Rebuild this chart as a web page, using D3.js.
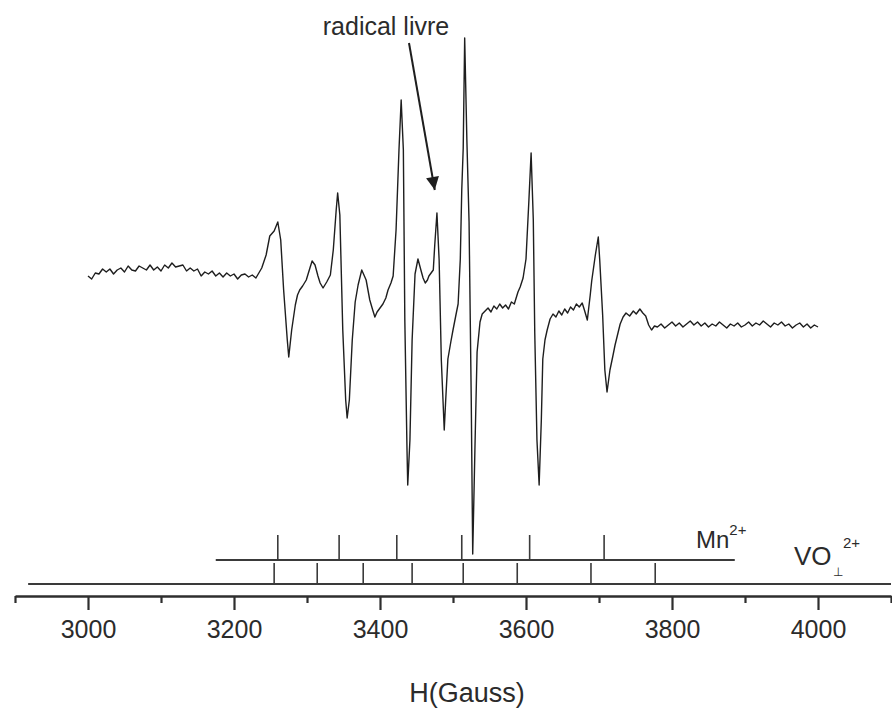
<!DOCTYPE html>
<html>
<head>
<meta charset="utf-8">
<script src="https://cdn.jsdelivr.net/npm/d3@7"></script>
<style>
  body { margin: 0; background: #fff; }
  text { font-family: "Liberation Sans", Arial, sans-serif; fill: #2b2b2b; }
</style>
</head>
<body>
<div id="chart"></div>
<script>
// EPR spectrum, field in Gauss, signal in arbitrary units
const fieldGauss = [
  3000,3005,3010,3015,3020,3025,3030,3035,3040,3045,3050,3055,3060,3065,3070,3075,3080,3085,3090,3095,
  3100,3105,3110,3115,3120,3125,3130,3135,3140,3145,3150,3155,3160,3165,3170,3175,3180,3185,3190,3195,
  3200,3205,3210,3215,3220,3225,3230,
  3238,3244,3249,3255,3260,3264,3268,3273,3275,3279,3284,3287,3290,3294,3299,3304,3307,3311,3315,3318,
  3322,3327,3332,3336,3340,3342,3345,3349,3353,3355,3358,3362,3366,3370,3375,3381,3386,3390,3393,3396,
  3400,3404,3408,3411,3415,3418,3422,3426,3429,3432,3434,3437,3438,3441,3444,3448,3452,3456,3459,3462,
  3465,3467,3470,3473,3475,3478,3481,3484,3488,3490,3493,3497,3500,3504,3507,3510,3512,3514,3516,3519,
  3522,3525,3527,3530,3533,3537,3540,3544,3548,3552,3556,3560,3564,3568,3572,3576,3580,3584,3589,3592,
  3596,3600,3604,3607,3610,3612,3615,3618,3621,3623,3626,3629,3633,3637,3641,3645,3649,3653,3657,3661,
  3665,3669,3673,3677,3680,3684,3688,3690,3695,3699,3701,3705,3708,3711,3715,3719,3722,3726,3729,3733,
  3737,3742,3747,3751,3756,3760,3764,3768,3772,3776,
  3780,3785,3790,3795,3800,3805,3810,3815,3820,3825,3830,3835,3840,3845,3850,3855,3860,3865,3870,3875,
  3880,3885,3890,3895,3900,3905,3910,3915,3920,3925,3930,3935,3940,3945,3950,3955,3960,3965,3970,3975,
  3980,3985,3990,3995,4000
];
const signal = [
  24,21,27,26,31,28,31,26,30,32,28,34,30,29,34,32,30,35,30,33,
  29,35,32,37,33,34,35,29,32,29,31,24,28,26,29,24,27,23,27,24,
  26,21,25,26,23,25,22,
  32,45,64,69,78,60,10,-40,-57,-30,-5,5,10,14,20,32,39,35,24,17,
  12,18,25,50,90,107,85,-30,-100,-118,-100,-40,-2,15,30,20,0,-10,-17,-12,
  -8,-4,2,10,17,24,70,150,200,150,-20,-150,-185,-140,-40,26,41,30,22,17,
  20,24,27,30,55,87,40,-60,-130,-100,-59,-42,-30,-15,-4,41,110,152,262,160,
  78,-100,-254,-150,-52,-22,-14,-11,-8,-12,-6,-9,-4,-8,-5,-9,-2,-4,8,13,
  22,41,100,147,80,-33,-140,-185,-120,-59,-40,-30,-19,-14,-17,-11,-15,-9,-13,-7,
  -10,-4,-7,-3,-10,-20,5,19,45,63,40,-15,-70,-92,-70,-56,-45,-33,-24,-17,
  -13,-16,-11,-14,-9,-13,-16,-25,-30,-26,
  -27,-24,-28,-25,-22,-26,-23,-27,-24,-21,-25,-22,-26,-23,-27,-24,-26,-22,-25,-28,
  -24,-26,-23,-27,-25,-22,-26,-23,-25,-21,-24,-27,-23,-25,-22,-26,-24,-28,-25,-23,
  -27,-24,-28,-25,-27
];

// stick diagrams
const mnLines = [3260, 3344, 3423, 3512, 3605, 3707];
const mnRange = [3175, 3886];
const voLines = [3255, 3314, 3377, 3444, 3514, 3588, 3689, 3777];
const voRange = [2918, 4100];

const majorTicks = [3000, 3200, 3400, 3600, 3800, 4000];
const minorTicks = [2900, 3100, 3300, 3500, 3700, 3900, 4100];

const width = 892, height = 708;
const axisY = 596;

const svg = d3.select("#chart")
  .append("svg")
  .attr("width", width)
  .attr("height", height);

const x = d3.scaleLinear().domain([2900, 4100]).range([15, 891]);
const y = d3.scaleLinear().domain([-300, 300]).range([600, 0]);

// spectrum
const pts = fieldGauss.map((g, i) => [g, signal[i]]);
svg.append("path")
  .datum(pts)
  .attr("fill", "none")
  .attr("stroke", "#1e1e1e")
  .attr("stroke-width", 1.4)
  .attr("stroke-linejoin", "round")
  .attr("d", d3.line().x(d => x(d[0])).y(d => y(d[1])));

// Mn2+ sticks
const mnY = 560, voY = 584;
svg.append("line")
  .attr("x1", x(mnRange[0])).attr("x2", x(mnRange[1]))
  .attr("y1", mnY).attr("y2", mnY)
  .attr("stroke", "#3a3a3a").attr("stroke-width", 2);
svg.selectAll(".mn")
  .data(mnLines)
  .enter()
  .append("line")
    .attr("class", "mn")
    .attr("x1", d => x(d)).attr("x2", d => x(d))
    .attr("y1", mnY).attr("y2", mnY - 25)
    .attr("stroke", "#3a3a3a").attr("stroke-width", 1.6);

// VO2+ sticks
svg.append("line")
  .attr("x1", x(voRange[0])).attr("x2", x(voRange[1]))
  .attr("y1", voY).attr("y2", voY)
  .attr("stroke", "#3a3a3a").attr("stroke-width", 2);
svg.selectAll(".vo")
  .data(voLines)
  .enter()
  .append("line")
    .attr("class", "vo")
    .attr("x1", d => x(d)).attr("x2", d => x(d))
    .attr("y1", voY).attr("y2", voY - 21)
    .attr("stroke", "#3a3a3a").attr("stroke-width", 1.6);

// x axis: major ticks with labels
const gMajor = svg.append("g")
  .attr("transform", `translate(0,${axisY})`)
  .call(d3.axisBottom(x)
    .tickValues(majorTicks)
    .tickFormat(d3.format("d"))
    .tickSize(14)
    .tickSizeOuter(0)
    .tickPadding(10));
gMajor.select(".domain").attr("stroke", "#2e2e2e").attr("stroke-width", 2.4);
gMajor.selectAll(".tick line").attr("stroke", "#2e2e2e").attr("stroke-width", 2.2);
gMajor.selectAll(".tick text")
  .attr("font-size", "25px")
  .attr("font-family", "Liberation Sans, Arial, sans-serif")
  .attr("fill", "#2b2b2b");

// minor ticks
const gMinor = svg.append("g")
  .attr("transform", `translate(0,${axisY})`)
  .call(d3.axisBottom(x)
    .tickValues(minorTicks)
    .tickFormat("")
    .tickSize(7)
    .tickSizeOuter(0));
gMinor.select(".domain").remove();
gMinor.selectAll(".tick line").attr("stroke", "#2e2e2e").attr("stroke-width", 2.2);

// axis title
svg.append("text")
  .attr("x", 467).attr("y", 702)
  .attr("text-anchor", "middle")
  .attr("font-size", "27px")
  .text("H(Gauss)");

// labels for stick diagrams
const mnLabel = svg.append("text")
  .attr("x", 696).attr("y", 548)
  .attr("font-size", "24px");
mnLabel.append("tspan").text("Mn");
mnLabel.append("tspan").attr("dy", -13).attr("font-size", "15px").text("2+");

svg.append("text")
  .attr("x", 794).attr("y", 565)
  .attr("font-size", "26px")
  .text("VO");
svg.append("text")
  .attr("x", 838).attr("y", 576)
  .attr("text-anchor", "middle")
  .attr("font-size", "12px")
  .attr("fill", "#777")
  .text("⊥");
svg.append("text")
  .attr("x", 843).attr("y", 548)
  .attr("font-size", "15px")
  .text("2+");

// annotation
svg.append("text")
  .attr("x", 386).attr("y", 35)
  .attr("text-anchor", "middle")
  .attr("font-size", "25px")
  .text("radical livre");

svg.append("defs").append("marker")
  .attr("id", "head")
  .attr("viewBox", "0 0 10 10")
  .attr("refX", 10).attr("refY", 5)
  .attr("markerWidth", 8).attr("markerHeight", 6.5)
  .attr("markerUnits", "strokeWidth")
  .attr("orient", "auto")
  .append("path")
    .attr("d", "M0,0 L10,5 L0,10 z")
    .attr("fill", "#1e1e1e");

svg.append("line")
  .attr("x1", 409).attr("y1", 43)
  .attr("x2", x(3475)).attr("y2", 190)
  .attr("stroke", "#1e1e1e")
  .attr("stroke-width", 2)
  .attr("marker-end", "url(#head)");
</script>
</body>
</html>
